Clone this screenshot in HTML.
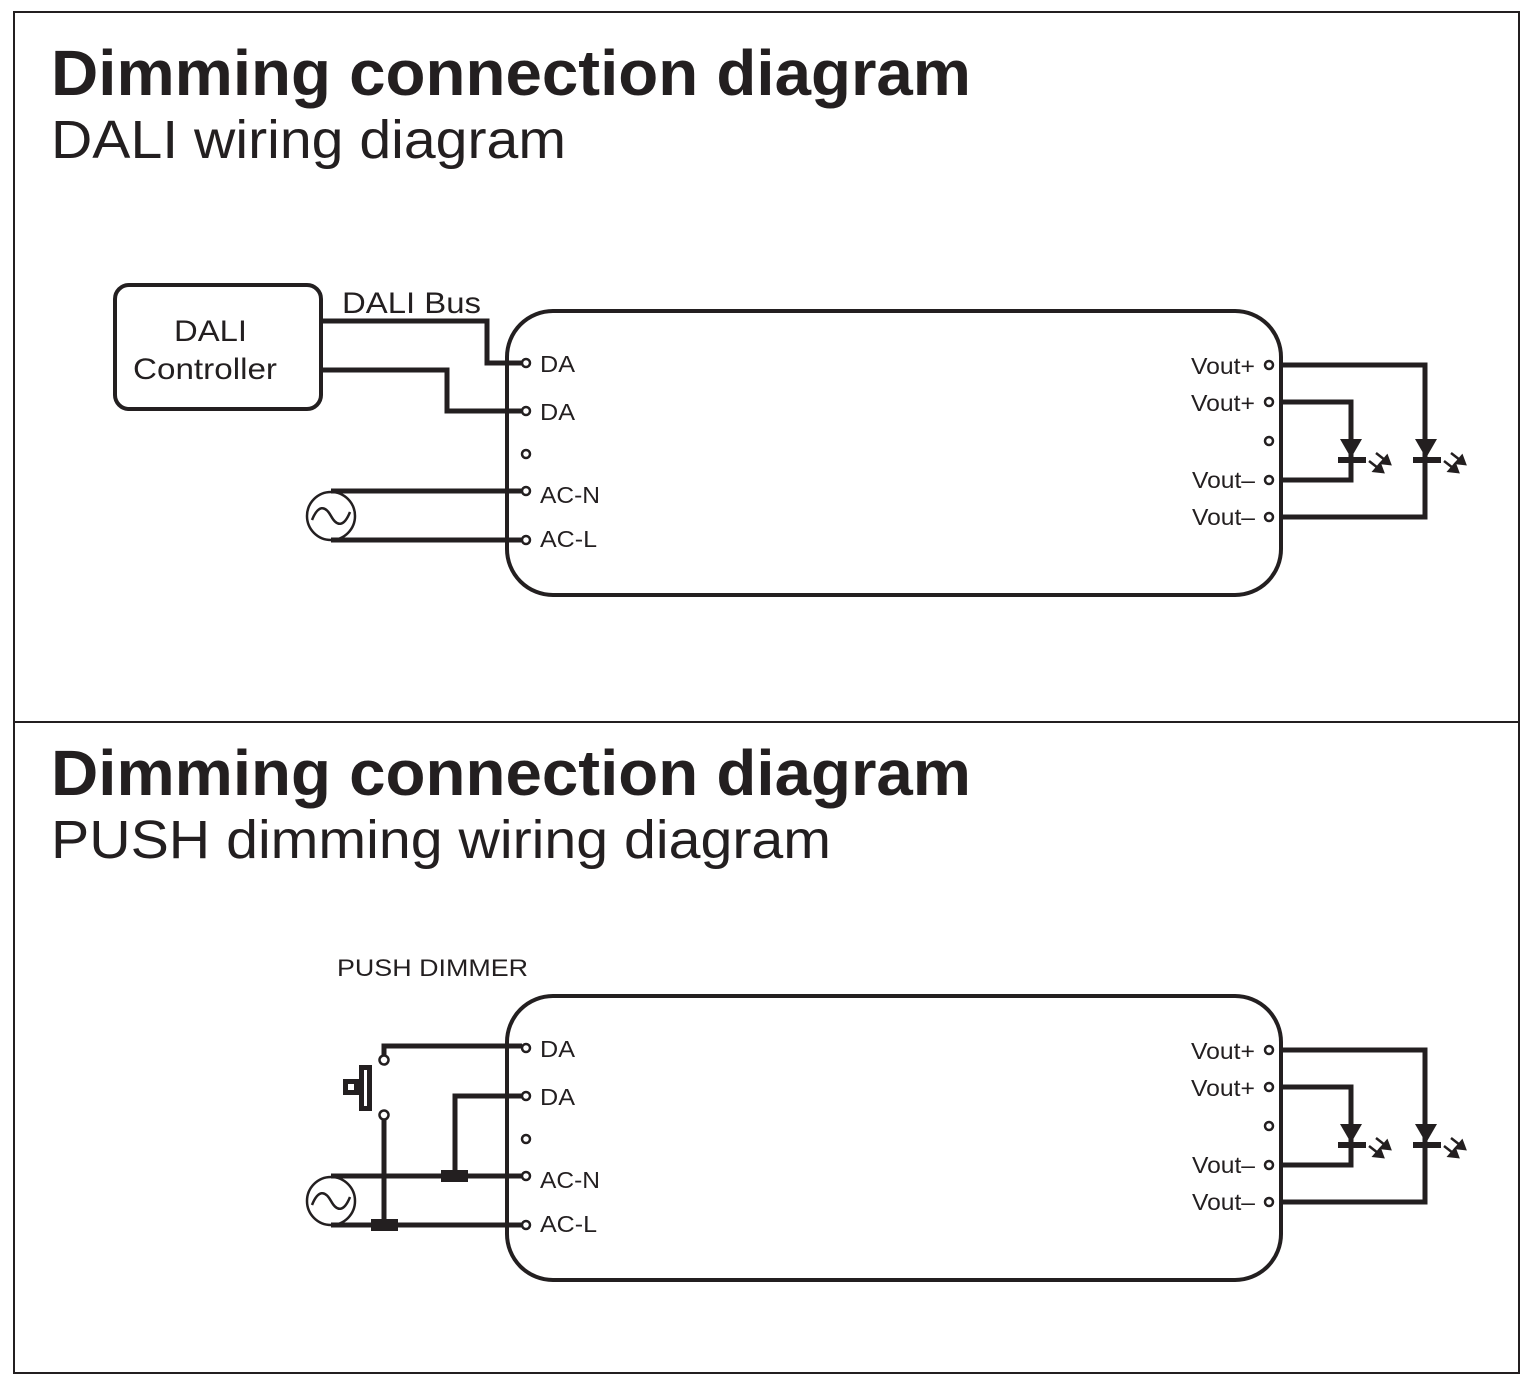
<!DOCTYPE html>
<html><head><meta charset="utf-8"><style>
html,body{margin:0;padding:0;background:#fff}
svg{display:block;font-family:"Liberation Sans",Arial,sans-serif}
</style></head><body>
<svg width="1528" height="1388" viewBox="0 0 1528 1388" xmlns="http://www.w3.org/2000/svg">
<defs>
<g id="drv">
  <rect x="507" y="311" width="774" height="284" rx="46" fill="none" stroke="#231f20" stroke-width="4"/>
  <g fill="none" stroke="#231f20" stroke-width="5">
    <polyline points="1281,365 1425,365 1425,517 1281,517"/>
    <polyline points="1281,402 1351,402 1351,480 1281,480"/>
  </g>
  <g fill="#fff" stroke="#231f20" stroke-width="2.5">
    <circle cx="526" cy="363" r="4"/><circle cx="526" cy="411" r="4"/><circle cx="526" cy="454" r="4"/>
    <circle cx="526" cy="491" r="4"/><circle cx="526" cy="540" r="4"/>
    <circle cx="1269" cy="365" r="4"/><circle cx="1269" cy="402" r="4"/><circle cx="1269" cy="441" r="4"/>
    <circle cx="1269" cy="480" r="4"/><circle cx="1269" cy="517" r="4"/>
  </g>
  <g fill="#231f20">
    <polygon points="1340,439 1362,439 1351,458"/>
    <rect x="1338" y="457" width="28" height="6"/>
    <polygon points="1415,439 1437,439 1426,458"/>
    <rect x="1413" y="457" width="28" height="6"/>
  </g>
  <g stroke="#231f20" stroke-width="2.5" fill="#231f20">
    <line x1="1369" y1="461" x2="1378" y2="468"/><polygon points="1383,472 1374,471 1380,464"/>
    <line x1="1376" y1="453" x2="1385" y2="460"/><polygon points="1390,464 1381,463 1387,456"/>
    <line x1="1444" y1="461" x2="1453" y2="468"/><polygon points="1458,472 1449,471 1455,464"/>
    <line x1="1451" y1="453" x2="1460" y2="460"/><polygon points="1465,464 1456,463 1462,456"/>
  </g>
  <g font-size="23" fill="#231f20">
    <text x="540" y="372" textLength="35" lengthAdjust="spacingAndGlyphs">DA</text>
    <text x="540" y="420" textLength="35" lengthAdjust="spacingAndGlyphs">DA</text>
    <text x="540" y="503" textLength="60" lengthAdjust="spacingAndGlyphs">AC-N</text>
    <text x="540" y="547" textLength="57" lengthAdjust="spacingAndGlyphs">AC-L</text>
    <text x="1191" y="374" textLength="64" lengthAdjust="spacingAndGlyphs">Vout+</text>
    <text x="1191" y="411" textLength="64" lengthAdjust="spacingAndGlyphs">Vout+</text>
    <text x="1192" y="488" textLength="63" lengthAdjust="spacingAndGlyphs">Vout–</text>
    <text x="1192" y="525" textLength="63" lengthAdjust="spacingAndGlyphs">Vout–</text>
  </g>
  <circle cx="331" cy="516" r="24" fill="#fff" stroke="#231f20" stroke-width="2.5"/>
  <path d="M312,520 C318,505 325,505 331,516 C337,527 344,527 350,512" fill="none" stroke="#231f20" stroke-width="2.5"/>
  <g stroke="#231f20" stroke-width="5">
    <line x1="331" y1="491" x2="522" y2="491"/><line x1="331" y1="540" x2="522" y2="540"/>
  </g>
</g>
</defs>
<rect x="14" y="12" width="1505" height="1361" fill="none" stroke="#231f20" stroke-width="2"/>
<line x1="14" y1="722" x2="1519" y2="722" stroke="#231f20" stroke-width="2"/>
<g fill="#231f20">
<text x="51" y="95" font-size="64" font-weight="bold" textLength="920" lengthAdjust="spacingAndGlyphs">Dimming connection diagram</text>
<text x="51" y="158" font-size="54" textLength="515" lengthAdjust="spacingAndGlyphs">DALI wiring diagram</text>
<text x="51" y="795" font-size="64" font-weight="bold" textLength="920" lengthAdjust="spacingAndGlyphs">Dimming connection diagram</text>
<text x="51" y="858" font-size="54" textLength="780" lengthAdjust="spacingAndGlyphs">PUSH dimming wiring diagram</text>
</g>
<use href="#drv"/>
<rect x="115" y="285" width="206" height="124" rx="14" fill="none" stroke="#231f20" stroke-width="4"/>
<g font-size="30" fill="#231f20">
<text x="174" y="341" textLength="73" lengthAdjust="spacingAndGlyphs">DALI</text>
<text x="133" y="379" textLength="144" lengthAdjust="spacingAndGlyphs">Controller</text>
</g>
<text x="342" y="313" font-size="30" fill="#231f20" textLength="139" lengthAdjust="spacingAndGlyphs">DALI Bus</text>
<g fill="none" stroke="#231f20" stroke-width="5">
<polyline points="321,321 487,321 487,363 522,363"/>
<polyline points="321,370 447,370 447,411 522,411"/>
</g>
<use href="#drv" y="685"/>
<text x="337" y="976" font-size="24" fill="#231f20" textLength="191" lengthAdjust="spacingAndGlyphs">PUSH DIMMER</text>
<g fill="none" stroke="#231f20" stroke-width="5">
<polyline points="384,1056 384,1046 522,1046"/>
<line x1="384" y1="1119" x2="384" y2="1226"/>
<polyline points="455,1176 455,1096 522,1096"/>
</g>
<g fill="#fff" stroke="#231f20" stroke-width="2.5">
<circle cx="384" cy="1060" r="4.5"/><circle cx="384" cy="1115" r="4.5"/>
</g>
<g fill="#231f20">
<path d="M359,1065 h13 v46 h-13 z M364,1070 v36 h3 v-36 z" fill-rule="evenodd"/>
<path d="M343,1079 h16 v16 h-16 z M348,1084 v6 h6 v-6 z" fill-rule="evenodd"/>
<rect x="441" y="1170" width="27" height="12"/>
<rect x="371" y="1219" width="27" height="12"/>
</g>
</svg>
</body></html>
